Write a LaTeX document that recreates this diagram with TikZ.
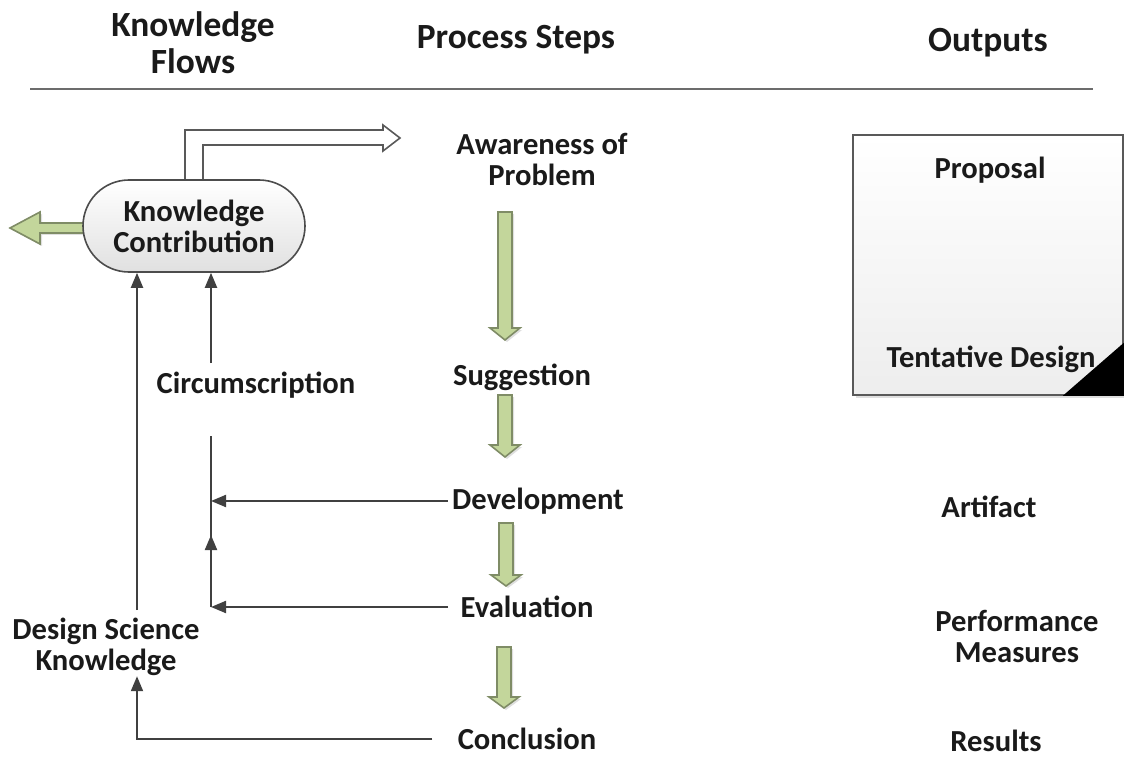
\documentclass[tikz,border=0pt]{standalone}
\usepackage{fontspec}
\setmainfont{Carlito}
\usetikzlibrary{arrows.meta,shadows}
\definecolor{gfill}{HTML}{C3D69B}
\definecolor{gline}{HTML}{7F8C66}
\definecolor{ln}{HTML}{404040}
\definecolor{tx}{HTML}{1A1A1A}
\tikzset{
 lbl/.style={font=\bfseries\fontsize{15.3}{15.5}\selectfont, text=tx, inner sep=0pt, align=center},
 hdr/.style={font=\bfseries\fontsize{17.7}{18.5}\selectfont, text=tx, inner sep=0pt, align=center},
 conn/.style={draw=ln, line width=1pt, -{Triangle[width=6pt,length=7.5pt]}},
 plainline/.style={draw=ln, line width=1pt},
 garrow/.style={fill=gfill, draw=gline, line width=0.8pt, line join=miter,
   drop shadow={shadow xshift=1pt,shadow yshift=-1pt,opacity=0.25}},
 hollow/.style={fill=white, draw=gray!70!black, line width=0.8pt, line join=miter},
}
\newcommand\gdown[4]{\draw[garrow] (#1-7,#2) -- (#1+7,#2) -- (#1+7,#3) -- (#1+15,#3) -- (#1,#4) -- (#1-15,#3) -- (#1-7,#3) -- cycle;}
\begin{document}
\begin{tikzpicture}[x=0.5pt,y=-0.5pt]
\useasboundingbox (0,0) rectangle (1124,759);
% headers
\node[hdr] (hkf) at (193,43) {Knowledge\\Flows};
\node[hdr] (hps) at (516,40) {Process Steps};
\node[hdr] (hout) at (988,43) {Outputs};
\draw[gray!85!black, line width=1pt] (30,89) -- (1093,89);
% block arrows around knowledge contribution
\draw[hollow] (185,180) -- (185,130) -- (383,130) -- (383,125) -- (400,138) -- (383,151) -- (383,145) -- (203,145) -- (203,180);
\draw[garrow] (85,223) -- (40,223) -- (40,212) -- (10,228) -- (40,244) -- (40,233) -- (85,233);
\node[lbl, draw=gray!60!black, line width=0.8pt, rounded corners=23pt, minimum width=111pt, minimum height=46pt, top color=white, bottom color=black!12] (kc) at (194,226) {Knowledge\\Contribution};
% process steps
\node[lbl] (aw) at (542,159) {Awareness of\\Problem};
\node[lbl] (sug) at (522,377) {Suggestion};
\node[lbl] (dev) at (538,501) {Development};
\node[lbl] (eval) at (527,607) {Evaluation};
\node[lbl] (conc) at (527,739) {Conclusion};
\gdown{505}{212}{328}{340}
\gdown{505}{395}{445}{457}
\gdown{506}{523}{575}{586}
\gdown{504}{647}{697}{708}
% knowledge flows
\node[lbl] (circ) at (256,385) {Circumscription};
\node[lbl] (dsk) at (106,647) {Design Science\\Knowledge};
\coordinate (d1) at (137,610);
\coordinate (c1) at (211,363);
\coordinate (c2) at (211,436);
\coordinate (c3) at (eval.west -| c2);
\coordinate (cm) at (211,535);
\draw[conn] (d1) -- (d1 |- kc.south);
\draw[conn] (c1) -- (c1 |- kc.south);
\draw[plainline] (c2) -- (c3);
\draw[conn] (c3) -- (cm);
\draw[conn] ([xshift=-2pt]dev.west) -- (dev.west -| c2);
\draw[conn] ([xshift=-6pt]eval.west) -- (c3);
\draw[conn] ([xshift=-12.5pt]conc.west) -| (d1 |- dsk.south);
% outputs
\node[draw=gray!70!black, line width=0.8pt, top color=white, bottom color=black!7, minimum width=135pt, minimum height=130pt, inner sep=0pt, drop shadow={shadow xshift=1.5pt,shadow yshift=-1.5pt,opacity=0.25}] (outbox) at (988,265) {};
\fill[black] ([xshift=-30.5pt]outbox.south east) -- (outbox.south east) -- ([yshift=26.5pt]outbox.south east) -- cycle;
\node[lbl] (prop) at (990,170) {Proposal};
\node[lbl] (tent) at (991,359) {Tentative Design};
\node[lbl] (art) at (989,507) {Artifact};
\node[lbl] (perf) at (1017,636) {Performance\\Measures};
\node[lbl] (res) at (996,741) {Results};
\end{tikzpicture}
\end{document}
